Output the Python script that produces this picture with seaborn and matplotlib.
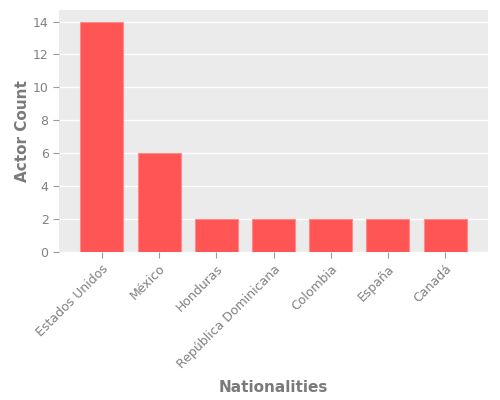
import matplotlib
matplotlib.use("Agg")
import matplotlib.pyplot as plt
import seaborn as sns
import pandas as pd

nationalities = ["Estados Unidos", "México", "Honduras", "República Dominicana",
                 "Colombia", "España", "Canadá"]
actor_counts = [14, 6, 2, 2, 2, 2, 2]

df = pd.DataFrame({"Nationalities": nationalities, "Actor Count": actor_counts})

sns.set_style("darkgrid", {"axes.facecolor": "#EBEBEB", "grid.color": "white"})
plt.rcParams['font.family'] = ['DejaVu Sans']

fig = plt.figure(figsize=(5, 4), dpi=100)
ax = fig.add_axes([0.118, 0.37, 0.858, 0.605])

sns.barplot(data=df, x="Nationalities", y="Actor Count", color="#FF5555",
            saturation=1, width=0.75, edgecolor="#FF8A8A", linewidth=0.8, ax=ax)

ax.set_xlim(-0.75, 6.75)
ax.set_ylim(0, 14.7)
ax.set_yticks(range(0, 15, 2))
ax.grid(axis="x", visible=False)
ax.grid(axis="y", color="white", linewidth=1)
ax.set_axisbelow(True)
for s in ax.spines.values():
    s.set_visible(False)

ax.tick_params(axis="both", colors="#999999", labelcolor="#808080", labelsize=9,
               length=4, width=0.8, direction="out", bottom=True, left=True)
plt.setp(ax.get_xticklabels(), rotation=45, ha="right", rotation_mode="anchor")

ax.set_xlabel("Nationalities", fontsize=11, color="#7a7a7a", fontweight="bold", labelpad=7)
ax.set_ylabel("Actor Count", fontsize=11, color="#7a7a7a", fontweight="bold", labelpad=2)

fig.savefig("out.png", dpi=100)
